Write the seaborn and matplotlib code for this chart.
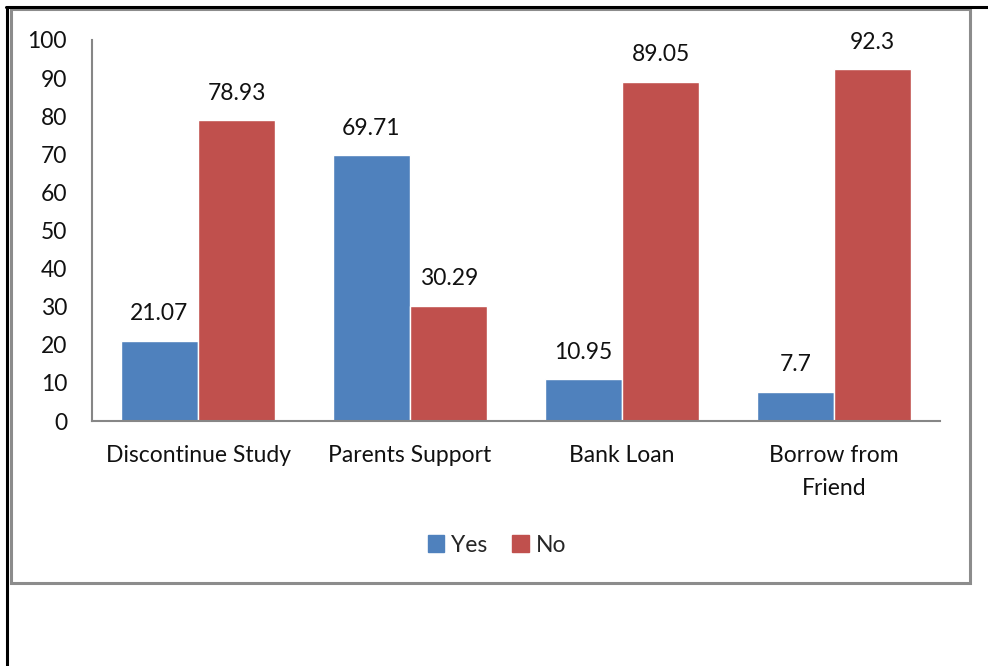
import matplotlib
matplotlib.use("Agg")
import matplotlib.pyplot as plt
import seaborn as sns
import pandas as pd
from matplotlib.patches import Rectangle
from matplotlib.lines import Line2D

categories = ["Discontinue Study", "Parents Support", "Bank Loan", "Borrow from\nFriend"]
yes_values = [21.07, 69.71, 10.95, 7.7]
no_values = [78.93, 30.29, 89.05, 92.3]
series = ["Yes", "No"]
colors = ["#4F81BD", "#C0504D"]

df = pd.DataFrame({
    "category": categories * 2,
    "answer": ["Yes"] * len(categories) + ["No"] * len(categories),
    "value": yes_values + no_values,
})

sns.set_theme(style="white")
plt.rcParams["font.family"] = ["Lato", "DejaVu Sans"]

FS = 16.5
W, H = 988, 666
fig = plt.figure(figsize=(W / 100, H / 100), dpi=100)
ax = fig.add_axes([92 / W, 1 - 421 / H, (940 - 92) / W, (421 - 40) / H])

sns.barplot(data=df, x="category", y="value", hue="answer", hue_order=series,
            palette=colors, width=0.73, saturation=1, ax=ax, legend=False)

for container in ax.containers:
    for bar in container:
        v = bar.get_height()
        ax.text(bar.get_x() + bar.get_width() / 2, v + 4.4, f"{v:g}",
                ha="center", va="bottom", fontsize=FS, color="#111111")

ax.set_ylim(0, 100)
ax.set_xlim(-0.5, 3.5)
ax.set_yticks(range(0, 101, 10))
ax.set_xlabel("")
ax.set_ylabel("")
ax.tick_params(axis="both", length=0, labelsize=FS, colors="#111111")
ax.tick_params(axis="y", pad=18)
ax.tick_params(axis="x", pad=17)
for lbl in ax.get_xticklabels():
    lbl.set_linespacing(1.75)
for s in ["top", "right"]:
    ax.spines[s].set_visible(False)
for s in ["left", "bottom"]:
    ax.spines[s].set_color("#868686")
    ax.spines[s].set_linewidth(1.5)

# legend at the bottom
handles = [Rectangle((0, 0), 1, 1, color=c) for c in colors]
fig.legend(handles, series, loc="center", bbox_to_anchor=(497 / W, 1 - 545 / H),
           ncol=2, frameon=False, fontsize=FS, handlelength=0.7, handleheight=0.7,
           handletextpad=0.3, columnspacing=1.1)

# chart frame and outer page border
fig.add_artist(Rectangle((11 / W, 1 - 583 / H), (970 - 11) / W, (583 - 9) / H,
                         transform=fig.transFigure, fill=False,
                         edgecolor="#8c8c8c", linewidth=2.2))
fig.add_artist(Line2D([7 / W, 7 / W], [0, 1 - 7 / H], transform=fig.transFigure,
                      color="black", linewidth=2.2))
fig.add_artist(Line2D([6 / W, 1], [1 - 7 / H, 1 - 7 / H], transform=fig.transFigure,
                      color="black", linewidth=2.2))

fig.savefig("out.png", dpi=100)
